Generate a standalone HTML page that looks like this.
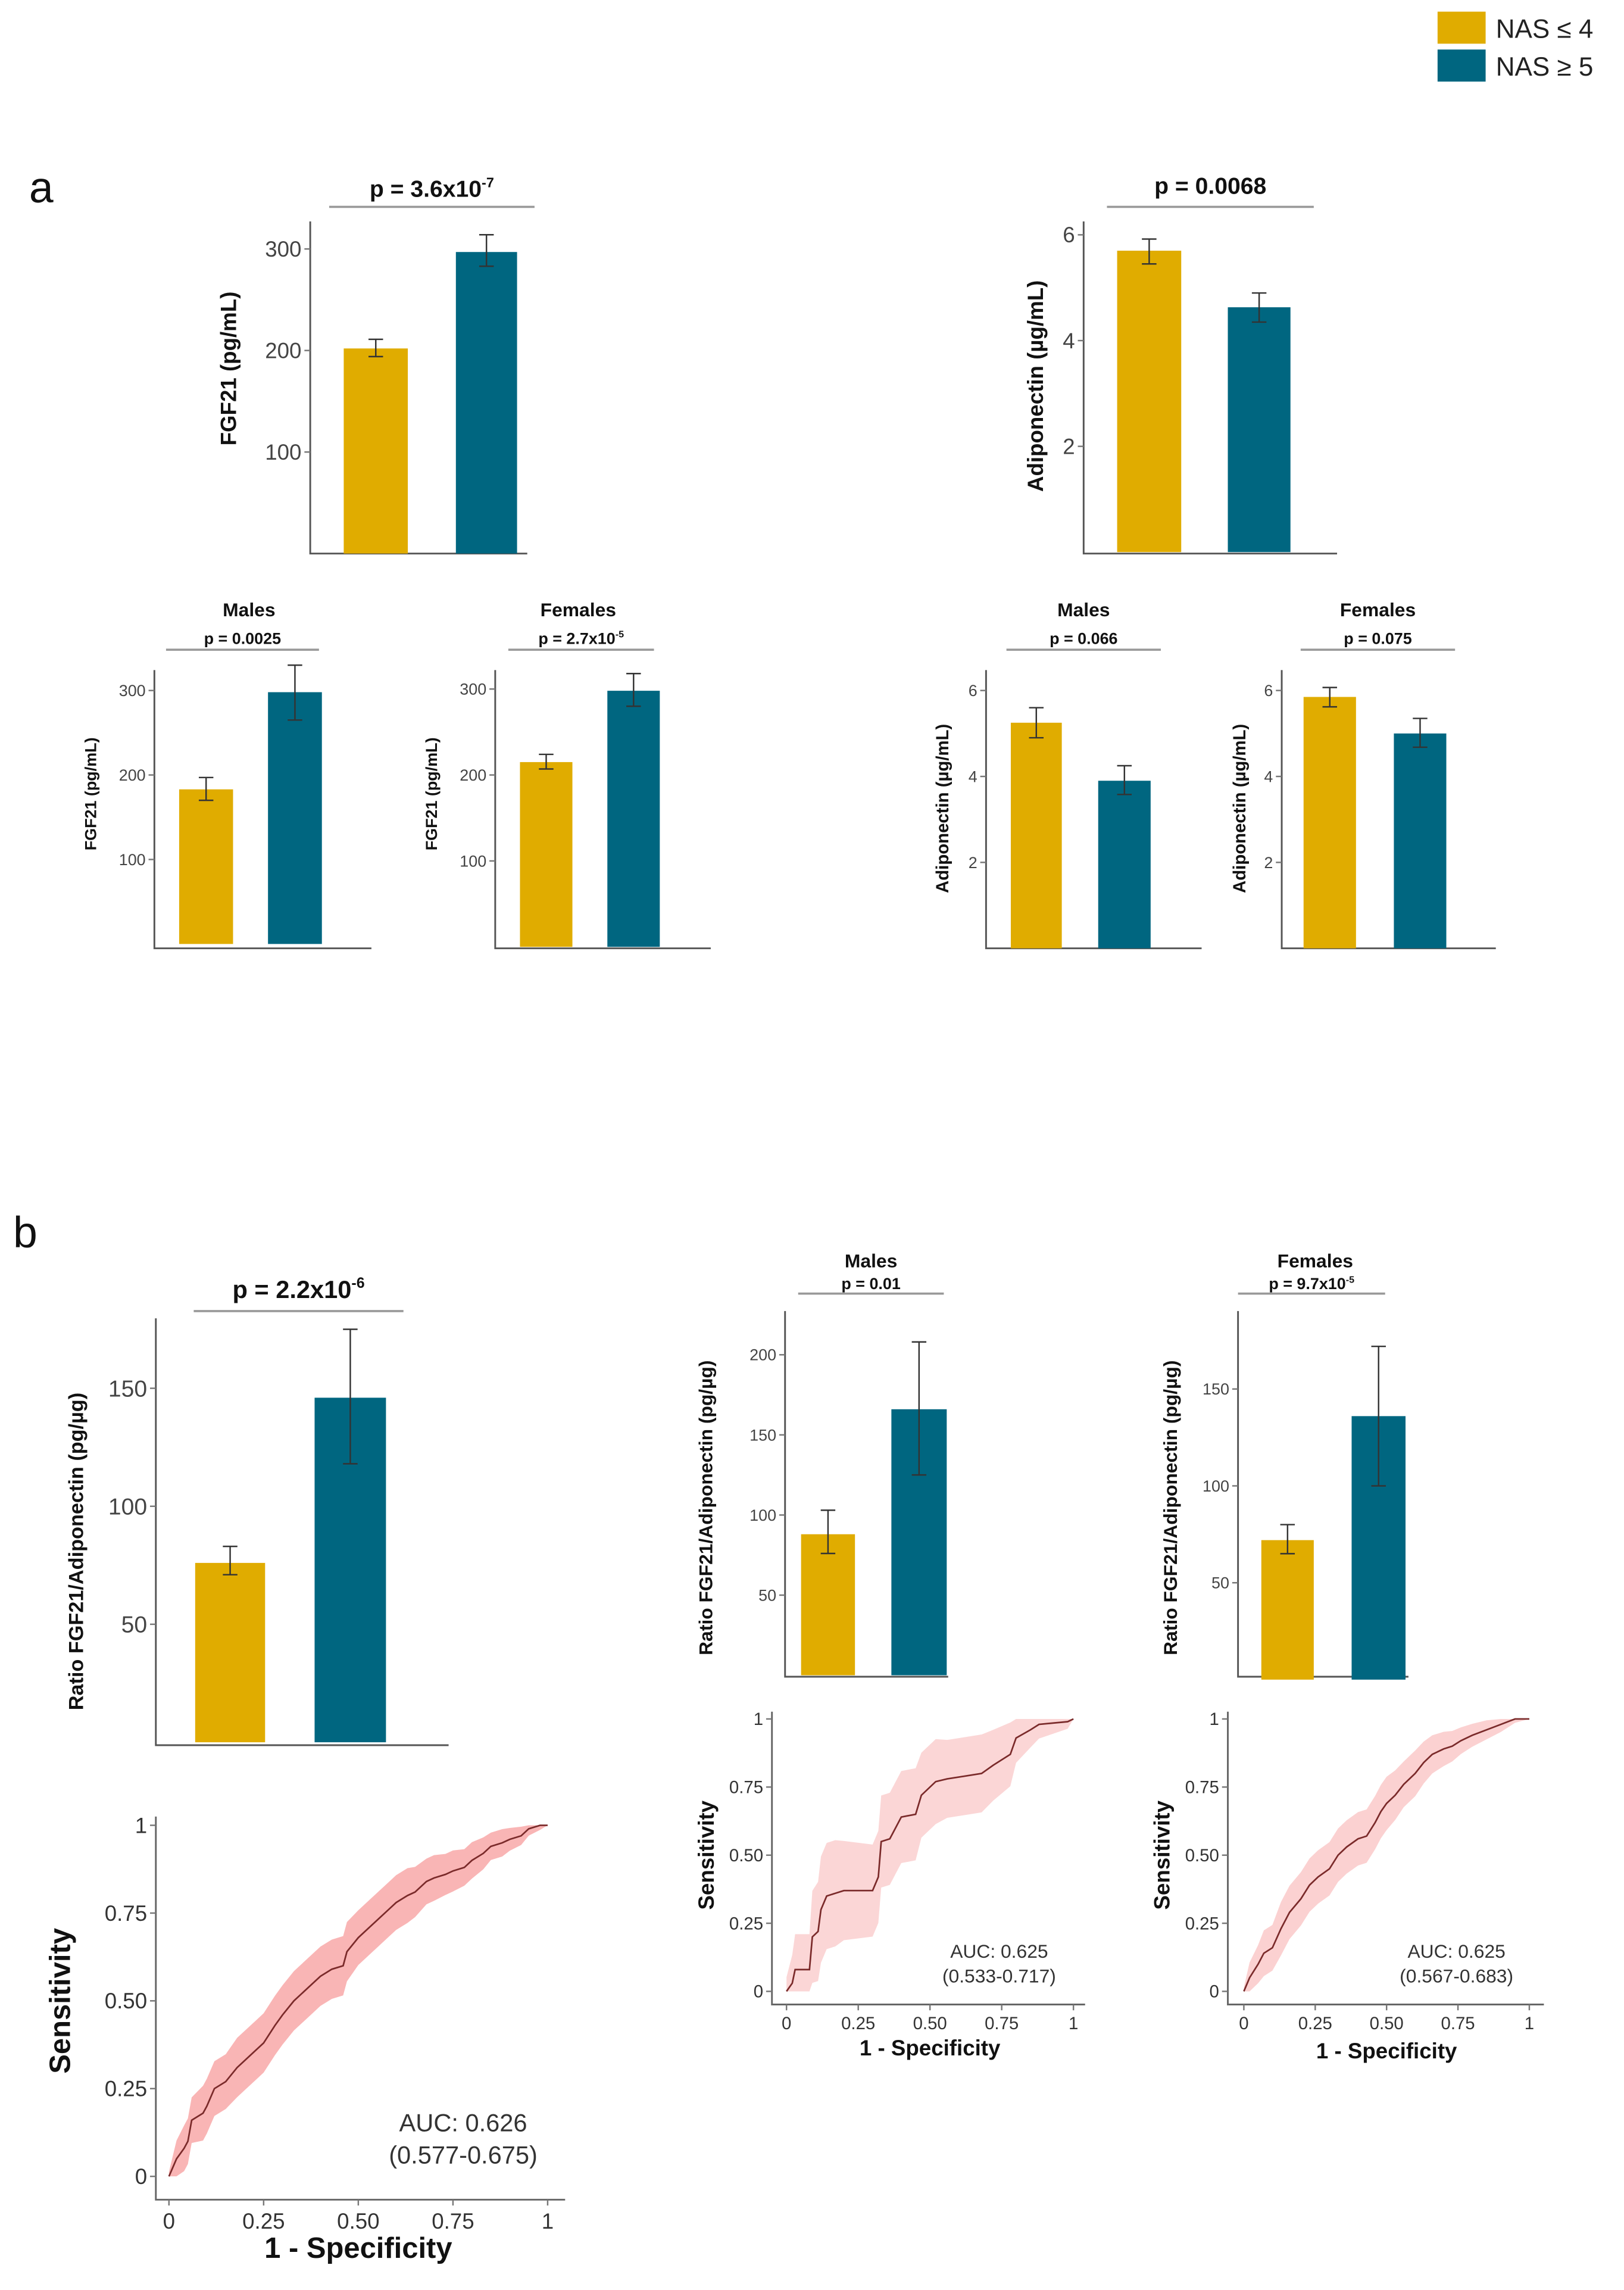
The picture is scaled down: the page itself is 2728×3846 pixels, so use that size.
<!DOCTYPE html>
<html><head><meta charset="utf-8">
<style>
html,body{margin:0;padding:0;background:#fff;}
svg{display:block;}
text{font-family:"Liberation Sans",sans-serif;}
</style></head>
<body>
<svg id="fig" width="2728" height="3846" viewBox="0 0 1115 1572" preserveAspectRatio="none" xmlns="http://www.w3.org/2000/svg">
  <g>
    <rect x="987" y="8" width="33" height="22" fill="#E0AC00"/>
    <text x="1027" y="26" font-size="18" fill="#222">NAS ≤ 4</text>
    <rect x="987" y="34" width="33" height="22" fill="#006680"/>
    <text x="1027" y="52" font-size="18" fill="#222">NAS ≥ 5</text>
  </g>
  <text x="20" y="139" font-size="30" fill="#111">a</text>
  <text x="9" y="856" font-size="30" fill="#111">b</text>
</svg>
<script>
// ---- Bar chart data (NAS<=4, NAS>=5) ----
const groups = ["NAS ≤ 4", "NAS ≥ 5"];
const fgf21All = [202, 297];
const fgf21AllLo = [194, 283];
const fgf21AllHi = [211, 314];
const fgf21AllTicks = [100, 200, 300];
const adipoAll = [5.7, 4.63];
const adipoAllLo = [5.45, 4.35];
const adipoAllHi = [5.92, 4.9];
const adipoAllTicks = [2, 4, 6];
const fgf21Male = [183, 298];
const fgf21MaleLo = [170, 265];
const fgf21MaleHi = [197, 330];
const fgf21Female = [215, 298];
const fgf21FemaleLo = [207, 280];
const fgf21FemaleHi = [224, 318];
const adipoMale = [5.25, 3.9];
const adipoMaleLo = [4.9, 3.58];
const adipoMaleHi = [5.6, 4.25];
const adipoFemale = [5.85, 5.0];
const adipoFemaleLo = [5.62, 4.68];
const adipoFemaleHi = [6.07, 5.35];
const ratioAll = [76, 146];
const ratioAllLo = [71, 118];
const ratioAllHi = [83, 175];
const ratioAllTicks = [50, 100, 150];
const ratioMale = [88, 166];
const ratioMaleLo = [76, 125];
const ratioMaleHi = [103, 208];
const ratioMaleTicks = [50, 100, 150, 200];
const ratioFemale = [72, 136];
const ratioFemaleLo = [65, 100];
const ratioFemaleHi = [80, 172];
const ratioFemaleTicks = [50, 100, 150];
// ---- ROC data ----
const rocTicks = [0, 0.25, 0.5, 0.75, 1];
const rocTickLabels = ["0", "0.25", "0.50", "0.75", "1"];
const rocAllFpr = [0,0.02,0.04,0.05,0.06,0.09,0.1,0.12,0.15,0.18,0.2,0.23,0.25,0.28,0.3,0.33,0.35,0.38,0.4,0.43,0.46,0.47,0.5,0.53,0.55,0.58,0.6,0.63,0.65,0.68,0.7,0.73,0.75,0.78,0.8,0.83,0.85,0.88,0.9,0.93,0.95,0.98,1];
const rocAllTpr = [0,0.05,0.08,0.1,0.16,0.18,0.2,0.25,0.27,0.31,0.33,0.36,0.38,0.43,0.46,0.5,0.52,0.55,0.57,0.59,0.6,0.64,0.68,0.71,0.73,0.76,0.78,0.8,0.81,0.84,0.85,0.86,0.87,0.88,0.9,0.92,0.94,0.95,0.96,0.97,0.99,1,1];
const rocAllBand = [0.01,0.04,0.05,0.05,0.05,0.06,0.06,0.06,0.06,0.065,0.065,0.065,0.065,0.065,0.065,0.065,0.065,0.065,0.065,0.065,0.065,0.065,0.06,0.06,0.06,0.06,0.06,0.06,0.055,0.05,0.05,0.045,0.045,0.04,0.04,0.035,0.03,0.03,0.025,0.02,0.015,0.01,0];
const rocMaleFpr = [0,0.02,0.03,0.08,0.09,0.11,0.12,0.14,0.17,0.2,0.3,0.32,0.33,0.36,0.38,0.4,0.45,0.47,0.52,0.56,0.62,0.68,0.72,0.78,0.8,0.85,0.88,0.98,1];
const rocMaleTpr = [0,0.03,0.08,0.08,0.2,0.22,0.3,0.35,0.36,0.37,0.37,0.42,0.55,0.56,0.6,0.64,0.65,0.72,0.77,0.78,0.79,0.8,0.83,0.87,0.93,0.96,0.98,0.99,1];
const rocMaleBand = [0.04,0.08,0.1,0.1,0.13,0.14,0.15,0.15,0.15,0.14,0.13,0.13,0.13,0.13,0.13,0.13,0.13,0.12,0.12,0.11,0.11,0.11,0.1,0.09,0.07,0.05,0.04,0.02,0];
const rocFemFpr = [0,0.02,0.05,0.07,0.1,0.13,0.16,0.2,0.23,0.26,0.3,0.33,0.36,0.4,0.43,0.46,0.48,0.5,0.53,0.56,0.6,0.63,0.66,0.7,0.73,0.76,0.8,0.85,0.9,0.95,1];
const rocFemTpr = [0,0.05,0.1,0.14,0.16,0.23,0.29,0.34,0.39,0.42,0.45,0.5,0.53,0.56,0.57,0.62,0.66,0.69,0.72,0.76,0.8,0.84,0.87,0.89,0.9,0.92,0.94,0.96,0.98,1,1];
const rocFemBand = [0.01,0.04,0.05,0.06,0.06,0.07,0.07,0.07,0.07,0.07,0.07,0.07,0.07,0.07,0.07,0.07,0.07,0.07,0.065,0.06,0.06,0.055,0.05,0.045,0.04,0.035,0.03,0.025,0.02,0.01,0];

const NS = "http://www.w3.org/2000/svg";
const svg = document.getElementById("fig");
const COLORS = ["#E0AC00", "#006680"];
function mk(tag, attrs, parent) {
  const e = document.createElementNS(NS, tag);
  for (const k in attrs) e.setAttribute(k, attrs[k]);
  (parent || svg).appendChild(e);
  return e;
}
function pText(g, cx, y, fs, pre, exp) {
  const t = mk("text", {x: cx, y: y, "font-size": fs, "font-weight": "bold", "text-anchor": "middle", fill: "#111"}, g);
  
  
  t.appendChild(document.createTextNode(pre));
  if (exp) {
    const s = mk("tspan", {dy: -fs * 0.4, "font-size": fs * 0.6}, t);
    s.textContent = exp;
  }
}
function barPanel(name, c, means, lo, hi, ticks) {
  const g = mk("g", {});
  
  
  const y = v => c.y0 - v * c.k;
  const ax = mk("path", {d: `M${c.ax},${c.top}V${c.bot}H${c.xe}`, fill: "none", stroke: "#555", "stroke-width": 1.2}, g);
  
  
  ticks.forEach(v => {
    const tl = mk("line", {x1: c.ax - 4, x2: c.ax, y1: y(v), y2: y(v), stroke: "#777"}, g);
    
    
    const tt = mk("text", {x: c.ax - 6, y: y(v) + c.tfs * 0.35, "font-size": c.tfs, "text-anchor": "end", fill: "#444"}, g);
    
    
    tt.textContent = v;
  });
  means.forEach((m, i) => {
    const b = c.bars[i];
    const r = mk("rect", {x: b[0], y: y(m), width: b[1] - b[0], height: c.y0 - y(m), fill: COLORS[i]}, g);
    
    
    const cx = (b[0] + b[1]) / 2, w = 5;
    const e = mk("path", {d: `M${cx},${y(lo[i])}V${y(hi[i])}M${cx - w},${y(lo[i])}H${cx + w}M${cx - w},${y(hi[i])}H${cx + w}`, stroke: "#333", "stroke-width": 1, fill: "none"}, g);
    
    
  });
  const yl = mk("text", {x: 0, y: 0, transform: `translate(${c.lx},${c.ly}) rotate(-90)`, "font-size": c.lfs, "font-weight": "bold", "text-anchor": "middle", fill: "#111"}, g);
  
  
  yl.textContent = c.label;
  if (c.title) {
    const tt = mk("text", {x: c.tx, y: c.ty, "font-size": c.titfs, "font-weight": "bold", "text-anchor": "middle", fill: "#111"}, g);
    
    
    tt.textContent = c.title;
  }
  const pl = mk("line", {x1: c.p[0], x2: c.p[1], y1: c.p[2], y2: c.p[2], stroke: "#999", "stroke-width": 1.5}, g);
  
  
  pText(g, (c.p[0] + c.p[1]) / 2, c.p[3], c.pfs, c.pt[0], c.pt[1]);
}
function rocPanel(name, c, fpr, tpr, band, auc, ci) {
  const g = mk("g", {});
  
  
  const X = v => c.x0 + (c.x1 - c.x0) * v;
  const Y = v => c.y0 + (c.y1 - c.y0) * v;
  let up = [], dn = [];
  fpr.forEach((f, i) => { const b = band[i] * c.bw; up.push(`${X(f)},${Y(Math.min(1, tpr[i] + b))}`); dn.push(`${X(f)},${Y(Math.max(0, tpr[i] - b))}`); });
  const bd = mk("polygon", {points: up.concat(dn.reverse()).join(" "), fill: "#F7A3A3", opacity: c.bop}, g);
  
  
  let d = "";
  fpr.forEach((f, i) => { d += (i ? "L" : "M") + X(f) + "," + Y(tpr[i]); });
  const ln = mk("path", {d: d, fill: "none", stroke: "#7a2a2a", "stroke-width": 1.1}, g);
  
  
  const ax = mk("path", {d: `M${c.ax},${c.top}V${c.bot}H${c.xe}`, fill: "none", stroke: "#666", "stroke-width": 1.2}, g);
  
  
  rocTicks.forEach((v, i) => {
    const a = mk("line", {x1: c.ax - 4, x2: c.ax, y1: Y(v), y2: Y(v), stroke: "#777"}, g);
    
    
    const at = mk("text", {x: c.ax - 6, y: Y(v) + c.tfs * 0.35, "font-size": c.tfs, "text-anchor": "end", fill: "#333"}, g);
    
    
    at.textContent = rocTickLabels[i];
    const b = mk("line", {x1: X(v), x2: X(v), y1: c.bot, y2: c.bot + 4, stroke: "#777"}, g);
    
    
    const bt = mk("text", {x: X(v), y: c.bot + 5 + c.tfs, "font-size": c.tfs, "text-anchor": "middle", fill: "#333"}, g);
    
    
    bt.textContent = rocTickLabels[i];
  });
  const xt = mk("text", {x: (c.x0 + c.x1) / 2, y: c.xty, "font-size": c.lfs, "font-weight": "bold", "text-anchor": "middle", fill: "#111"}, g);
  
  
  xt.textContent = "1 - Specificity";
  const yt = mk("text", {x: 0, y: 0, transform: `translate(${c.ylx},${(c.y0 + c.y1) / 2}) rotate(-90)`, "font-size": c.lfs, "font-weight": "bold", "text-anchor": "middle", fill: "#111"}, g);
  
  
  yt.textContent = "Sensitivity";
  const a1 = mk("text", {x: c.aucx, y: c.aucy, "font-size": c.afs, "text-anchor": "middle", fill: "#333"}, g);
  
  
  a1.textContent = "AUC: " + auc;
  const a2 = mk("text", {x: c.aucx, y: c.aucy + c.afs * 1.3, "font-size": c.afs, "text-anchor": "middle", fill: "#333", "font-family": "DejaVu Sans, sans-serif"}, g);
  
  
  a2.textContent = ci;
}

barPanel("fgf21-all-chart", {ax:213, top:152, bot:380, xe:362, y0:380, k:0.697, bars:[[236,280],[313,355]], tfs:15, label:"FGF21 (pg/mL)", lx:162, ly:253, lfs:15, p:[226,367,142,135], pfs:16, pt:["p = 3.6x10","-7"]}, fgf21All, fgf21AllLo, fgf21AllHi, fgf21AllTicks);
barPanel("adiponectin-all-chart", {ax:744, top:152, bot:380, xe:918, y0:379, k:36.3, bars:[[767,811],[843,886]], tfs:15, label:"Adiponectin (µg/mL)", lx:716, ly:265, lfs:15, p:[760,902,142,133], pfs:16, pt:["p = 0.0068",""]}, adipoAll, adipoAllLo, adipoAllHi, adipoAllTicks);
barPanel("fgf21-males-chart", {ax:106, top:460, bot:651, xe:255, y0:648, k:0.58, bars:[[123,160],[184,221]], tfs:11, label:"FGF21 (pg/mL)", lx:66, ly:545, lfs:11, title:"Males", tx:171, ty:423, titfs:13, p:[114,219,446,442], pfs:11, pt:["p = 0.0025",""]}, fgf21Male, fgf21MaleLo, fgf21MaleHi, fgf21AllTicks);
barPanel("fgf21-females-chart", {ax:340, top:460, bot:651, xe:488, y0:650, k:0.59, bars:[[357,393],[417,453]], tfs:11, label:"FGF21 (pg/mL)", lx:300, ly:545, lfs:11, title:"Females", tx:397, ty:423, titfs:13, p:[349,449,446,442], pfs:11, pt:["p = 2.7x10","-5"]}, fgf21Female, fgf21FemaleLo, fgf21FemaleHi, fgf21AllTicks);
barPanel("adiponectin-males-chart", {ax:677, top:460, bot:651, xe:825, y0:651, k:29.5, bars:[[694,729],[754,790]], tfs:11, label:"Adiponectin (µg/mL)", lx:651, ly:555, lfs:12, title:"Males", tx:744, ty:423, titfs:13, p:[691,797,446,442], pfs:11, pt:["p = 0.066",""]}, adipoMale, adipoMaleLo, adipoMaleHi, adipoAllTicks);
barPanel("adiponectin-females-chart", {ax:880, top:460, bot:651, xe:1027, y0:651, k:29.5, bars:[[895,931],[957,993]], tfs:11, label:"Adiponectin (µg/mL)", lx:855, ly:555, lfs:12, title:"Females", tx:946, ty:423, titfs:13, p:[893,999,446,442], pfs:11, pt:["p = 0.075",""]}, adipoFemale, adipoFemaleLo, adipoFemaleHi, adipoAllTicks);
barPanel("ratio-all-chart", {ax:107, top:905, bot:1198, xe:308, y0:1196, k:1.62, bars:[[134,182],[216,265]], tfs:16, label:"Ratio FGF21/Adiponectin (pg/µg)", lx:57, ly:1065, lfs:14, p:[133,277,900,891], pfs:17, pt:["p = 2.2x10","-6"]}, ratioAll, ratioAllLo, ratioAllHi, ratioAllTicks);
barPanel("ratio-males-chart", {ax:539, top:900, bot:1151, xe:651, y0:1150, k:1.1, bars:[[550,587],[612,650]], tfs:11, label:"Ratio FGF21/Adiponectin (pg/µg)", lx:489, ly:1035, lfs:13, title:"Males", tx:598, ty:870, titfs:13, p:[548,648,888,885], pfs:11, pt:["p = 0.01",""]}, ratioMale, ratioMaleLo, ratioMaleHi, ratioMaleTicks);
barPanel("ratio-females-chart", {ax:850, top:900, bot:1151, xe:967, y0:1153, k:1.33, bars:[[866,902],[928,965]], tfs:11, label:"Ratio FGF21/Adiponectin (pg/µg)", lx:808, ly:1035, lfs:13, title:"Females", tx:903, ty:870, titfs:13, p:[850,951,888,885], pfs:11, pt:["p = 9.7x10","-5"]}, ratioFemale, ratioFemaleLo, ratioFemaleHi, ratioFemaleTicks);

rocPanel("roc-all-chart", {ax:107, top:1247, bot:1510, xe:388, x0:116, x1:376, y0:1494, y1:1253, tfs:15, lfs:20, xty:1550, ylx:48, aucx:318, aucy:1463, afs:17, bop:0.8, bw:1.3}, rocAllFpr, rocAllTpr, rocAllBand, "0.626", "(0.577-0.675)");
rocPanel("roc-males-chart", {ax:530, top:1175, bot:1376, xe:745, x0:540, x1:737, y0:1367, y1:1180, tfs:12, lfs:15, xty:1411, ylx:490, aucx:686, aucy:1344, afs:13, bop:0.45, bw:1.3}, rocMaleFpr, rocMaleTpr, rocMaleBand, "0.625", "(0.533-0.717)");
rocPanel("roc-females-chart", {ax:843, top:1175, bot:1376, xe:1060, x0:854, x1:1050, y0:1367, y1:1180, tfs:12, lfs:15, xty:1413, ylx:803, aucx:1000, aucy:1344, afs:13, bop:0.5, bw:1.4}, rocFemFpr, rocFemTpr, rocFemBand, "0.625", "(0.567-0.683)");
</script>
</body></html>
